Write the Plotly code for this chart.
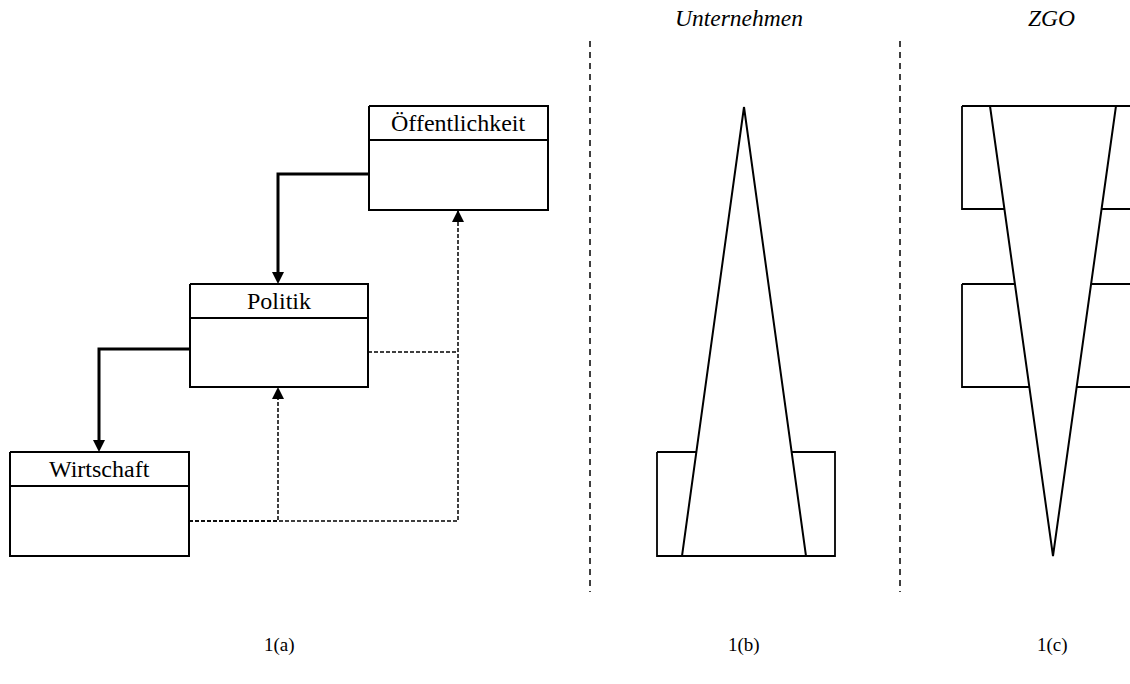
import plotly.graph_objects as go

# ---------------- data ----------------
box_labels = ["Wirtschaft", "Politik", "Öffentlichkeit"]
box_x0 = [10, 190, 369]
box_x1 = [189, 368, 548]
box_y0 = [452, 284, 106]
box_y1 = [556, 387, 210]
header_h = 34

# strong (solid) connectors: lists of x / y vertices, arrow at last point (pointing down)
strong_x = [[369, 278, 278], [190, 99, 99]]
strong_y = [[174, 174, 284], [349, 349, 452]]

# dashed connectors
dashed_x = [[189, 278, 278], [189, 458, 458], [368, 458]]
dashed_y = [[521, 521, 387], [521, 521, 210], [352, 352]]
dashed_arrow_x = [278, 458]
dashed_arrow_y = [387, 210]

# panel dividers
divider_x = [590, 900]
divider_y = [41, 592]

# panel b (Unternehmen)
b_rect_x = [657, 835]
b_rect_y = [452, 556]
b_tri_x = [744, 806, 682]
b_tri_y = [107, 556, 556]

# panel c (ZGO)
c_rect_x = [962, 1141]
c_rect_y = [[106, 209], [284, 387]]
c_tri_x = [990, 1116, 1053]
c_tri_y = [106, 106, 556]

panel_titles = ["Unternehmen", "ZGO"]
panel_title_x = [739, 1051]
panel_title_y = 18
panel_labels = ["1(a)", "1(b)", "1(c)"]
panel_label_x = [279, 744, 1052]
panel_label_y = 645

FONT = "Liberation Serif, Times New Roman, serif"
ARROW = 12

fig = go.Figure()

def line(xs, ys, width=2, dash="solid", fill=None):
    fig.add_trace(go.Scatter(
        x=xs, y=ys, mode="lines",
        line=dict(color="black", width=width, dash=dash),
        fill=fill, fillcolor="white" if fill else None,
        hoverinfo="skip", showlegend=False))

# ---- panel a: boxes ----
for lab, x0, x1, y0, y1 in zip(box_labels, box_x0, box_x1, box_y0, box_y1):
    line([x0, x1, x1, x0, x0], [y0, y0, y1, y1, y0], width=2)
    line([x0, x1], [y0 + header_h, y0 + header_h], width=2)
    fig.add_annotation(x=(x0 + x1) / 2, y=y0 + header_h / 2, text=lab,
                       showarrow=False, xref="x", yref="y",
                       font=dict(family=FONT, size=24, color="black"))

# strong connectors
for xs, ys in zip(strong_x, strong_y):
    line(xs[:-1] + [xs[-1]], ys[:-1] + [ys[-1] - ARROW + 2], width=3)
fig.add_trace(go.Scatter(x=[xs[-1] for xs in strong_x], y=[ys[-1] for ys in strong_y],
                         mode="markers",
                         marker=dict(symbol="arrow-down", size=ARROW, color="black",
                                     line=dict(width=0)),
                         hoverinfo="skip", showlegend=False))

# dashed connectors
for xs, ys in zip(dashed_x, dashed_y):
    line(xs, ys, width=1.5, dash="4px,2px")
fig.add_trace(go.Scatter(x=dashed_arrow_x, y=dashed_arrow_y, mode="markers",
                         marker=dict(symbol="arrow-up", size=ARROW, color="black",
                                     line=dict(width=0)),
                         hoverinfo="skip", showlegend=False))

# ---- dividers ----
for dx in divider_x:
    line([dx, dx], divider_y, width=1.5, dash="6px,5px")

# ---- panel b ----
line([b_rect_x[0], b_rect_x[1], b_rect_x[1], b_rect_x[0], b_rect_x[0]],
     [b_rect_y[0], b_rect_y[0], b_rect_y[1], b_rect_y[1], b_rect_y[0]], width=1.8)
line(b_tri_x + [b_tri_x[0]], b_tri_y + [b_tri_y[0]], width=2, fill="toself")

# ---- panel c ----
for ry in c_rect_y:
    line([c_rect_x[0], c_rect_x[1], c_rect_x[1], c_rect_x[0], c_rect_x[0]],
         [ry[0], ry[0], ry[1], ry[1], ry[0]], width=1.8)
line(c_tri_x + [c_tri_x[0]], c_tri_y + [c_tri_y[0]], width=2, fill="toself")

# ---- texts ----
for t, tx in zip(panel_titles, panel_title_x):
    fig.add_annotation(x=tx, y=panel_title_y, text=f"<i>{t}</i>", showarrow=False,
                       font=dict(family=FONT, size=23.5, color="black"))
for t, tx in zip(panel_labels, panel_label_x):
    fig.add_annotation(x=tx, y=panel_label_y, text=t, showarrow=False,
                       font=dict(family=FONT, size=19, color="black"))

W, H = 1130, 684
fig.update_xaxes(range=[0, W], visible=False, fixedrange=True)
fig.update_yaxes(range=[H, 0], visible=False, fixedrange=True)
fig.update_layout(width=W, height=H,
                  margin=dict(l=0, r=0, t=0, b=0),
                  plot_bgcolor="white", paper_bgcolor="white")

fig.write_html("out.html",
               config={"displayModeBar": False},
               post_script="document.body.style.margin='0';document.body.style.overflow='hidden';")
